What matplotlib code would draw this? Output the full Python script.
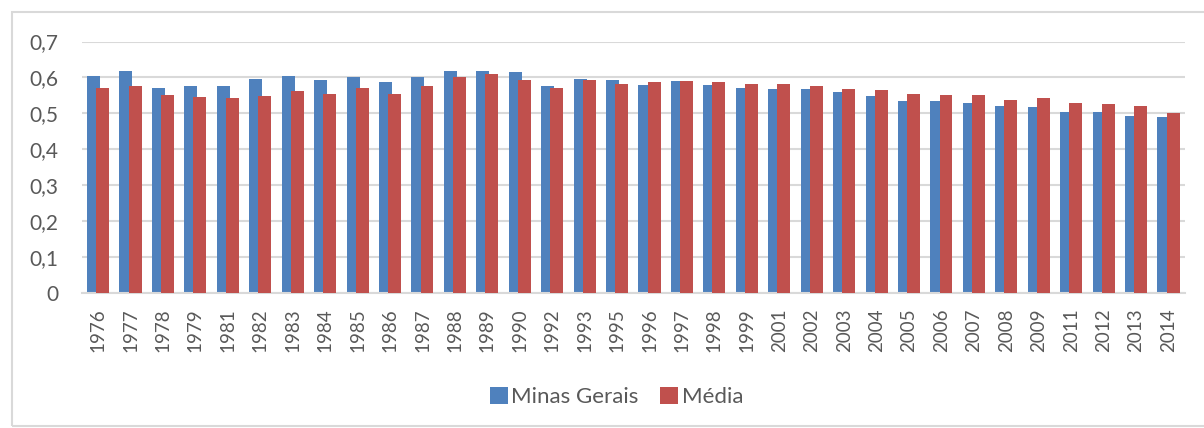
import matplotlib.pyplot as plt
from matplotlib.patches import Rectangle, Patch
import numpy as np

plt.rcParams['font.family'] = ['Lato', 'DejaVu Sans']

anos = ['1976', '1977', '1978', '1979', '1981', '1982', '1983', '1984', '1985',
        '1986', '1987', '1988', '1989', '1990', '1992', '1993', '1995', '1996',
        '1997', '1998', '1999', '2001', '2002', '2003', '2004', '2005', '2006',
        '2007', '2008', '2009', '2011', '2012', '2013', '2014']
minas_gerais = [0.603, 0.619, 0.572, 0.575, 0.575, 0.597, 0.603, 0.592, 0.601,
                0.588, 0.600, 0.618, 0.619, 0.615, 0.575, 0.597, 0.592, 0.578,
                0.591, 0.578, 0.572, 0.569, 0.569, 0.560, 0.549, 0.535, 0.535,
                0.528, 0.521, 0.518, 0.505, 0.505, 0.494, 0.491]
media = [0.570, 0.577, 0.551, 0.545, 0.543, 0.549, 0.562, 0.555, 0.570,
         0.555, 0.577, 0.601, 0.610, 0.592, 0.571, 0.593, 0.582, 0.588,
         0.591, 0.588, 0.581, 0.581, 0.577, 0.569, 0.565, 0.554, 0.550,
         0.550, 0.538, 0.542, 0.528, 0.526, 0.521, 0.501]
yticks = [0, 0.1, 0.2, 0.3, 0.4, 0.5, 0.6, 0.7]
ytick_labels = ['0', '0,1', '0,2', '0,3', '0,4', '0,5', '0,6', '0,7']

azul = '#4F81BD'
vermelho = '#C0504D'
cinza_texto = '#595959'
cinza_linha = '#D9D9D9'

fig = plt.figure(figsize=(12.04, 4.28), dpi=100)
ax = fig.add_axes([0.068, 0.315, 0.916, 0.588])

x = np.arange(len(anos))
w = 0.4
ax.bar(x - 0.14, minas_gerais, width=w, color=azul, zorder=2)
ax.bar(x + 0.14, media, width=w, color=vermelho, zorder=3)

ax.set_xlim(-0.5, len(anos) - 0.5)
ax.set_ylim(0, 0.7)
ax.set_yticks(yticks)
ax.set_yticklabels(ytick_labels)
ax.set_xticks(x)
ax.set_xticklabels(anos, rotation=90)
ax.tick_params(axis='both', length=0, colors=cinza_texto, labelsize=13.5)
ax.tick_params(axis='y', pad=17, labelsize=15)
ax.tick_params(axis='x', pad=11)

ax.yaxis.grid(True, color=cinza_linha, linewidth=1.5, zorder=0)
ax.set_axisbelow(True)
for lado in ['top', 'right', 'left']:
    ax.spines[lado].set_visible(False)
ax.spines['bottom'].set_color(cinza_linha)
ax.spines['bottom'].set_linewidth(1.5)

handles = [Patch(facecolor=azul, label='Minas Gerais'),
           Patch(facecolor=vermelho, label='Média')]
fig.legend(handles=handles, loc='center', bbox_to_anchor=(0.512, 0.072), ncol=2,
           frameon=False, handlelength=0.8, handleheight=0.8, handletextpad=0.15,
           columnspacing=1.0, fontsize=16, labelcolor=cinza_texto)

# moldura clara ao redor do gráfico
fig.patches.append(Rectangle((12 / 1204, 2 / 428), 1.1, 414 / 428,
                             transform=fig.transFigure, fill=False,
                             edgecolor=cinza_linha, linewidth=1.5))

fig.savefig('out.png', dpi=100)
